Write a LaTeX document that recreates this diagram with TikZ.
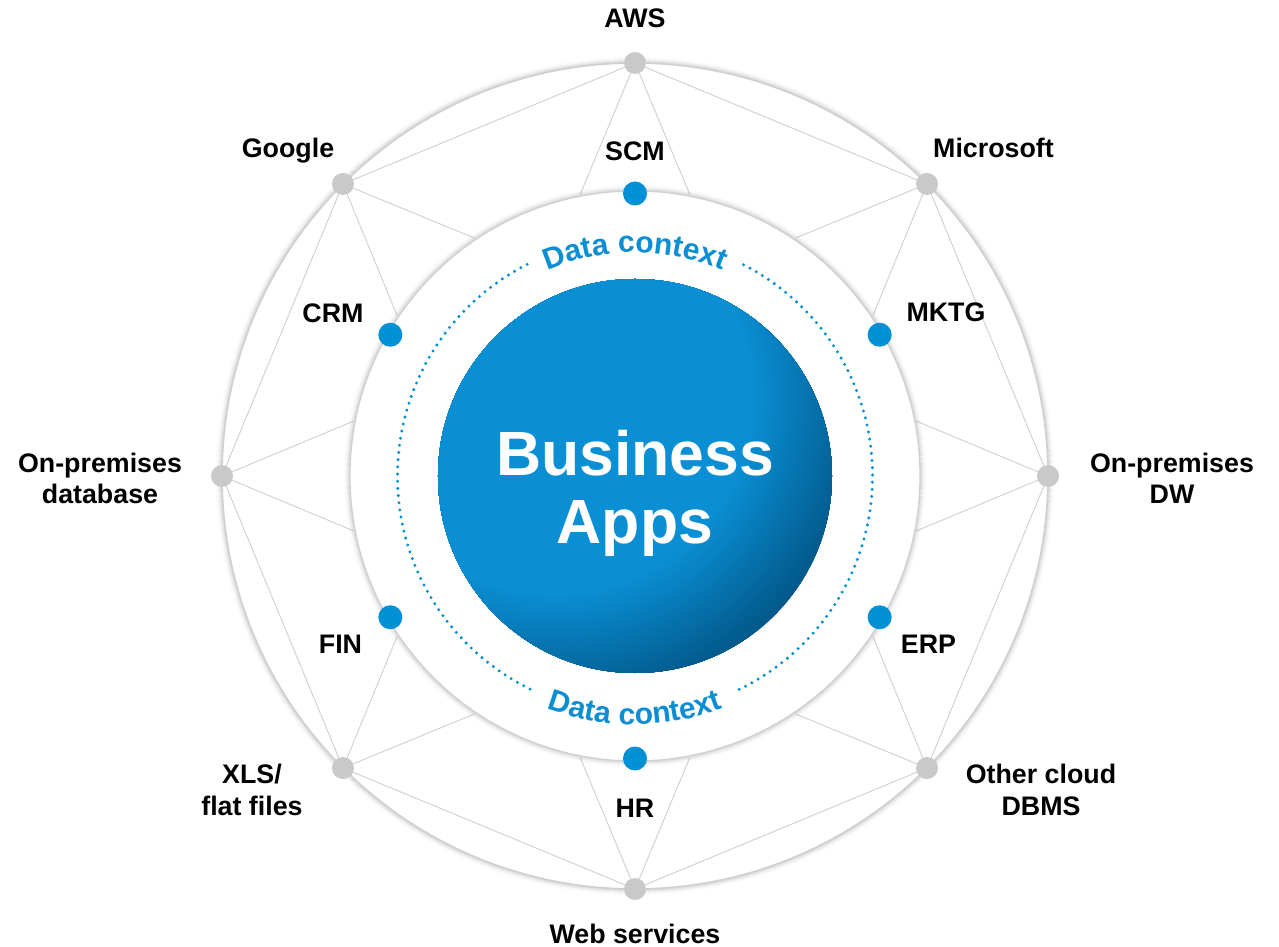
\documentclass[tikz,border=0pt]{standalone}
\usepackage{fontspec}
\setmainfont{Liberation Sans}
\usetikzlibrary{decorations.text}
\definecolor{dotblue}{HTML}{0090D5}
\definecolor{txtblue}{HTML}{0C8ED3}
\definecolor{bizA}{HTML}{0A8FD4}
\definecolor{bizB}{HTML}{004F7D}
\definecolor{linegray}{HTML}{CFCFCF}
\definecolor{edgegray}{HTML}{D0D0D0}
\definecolor{dotgray}{HTML}{C9C9C9}
\tikzset{
  graydot/.style={circle, fill=dotgray, minimum size=22pt, inner sep=0pt},
  bluedot/.style={circle, fill=dotblue, minimum size=24pt, inner sep=0pt},
  spoke/.style={draw=linegray, line width=0.9pt},
  lbl/.style={font=\fontsize{26.8}{31.7}\selectfont\bfseries, text=black, inner sep=0pt, anchor=base, align=center},
  dotline/.style={draw=dotblue, line width=3.3pt, line cap=round, dash pattern=on 0pt off 7.2pt},
  ctxtext/.style={decorate, decoration={text along path, text align=center,
     text={|\fontsize{30}{32}\selectfont\bfseries\color{txtblue}|Data context}}}
}
\begin{document}
\begin{tikzpicture}[x=1pt, y=1pt]
\useasboundingbox (-635,-471) rectangle (644,476);
% outer disk with soft shadow
\foreach \k/\op in {1/0.13,2/0.10,3/0.07,4/0.045,5/0.025,6/0.012,7/0.005}
  \draw[black, opacity=\op, line width=1.1pt] (0,0) circle[radius=413+\k-0.5];
\fill[white] (0,0) circle[radius=413];
\draw[edgegray, line width=1.6pt] (0,0) circle[radius=413];
% outer dots
\node[graydot] (aws) at (90:413) {};
\node[graydot] (ms) at (45:413) {};
\node[graydot] (dw) at (0:413) {};
\node[graydot] (oc) at (-45:413) {};
\node[graydot] (ws) at (-90:413) {};
\node[graydot] (xls) at (-135:413) {};
\node[graydot] (db) at (180:413) {};
\node[graydot] (gg) at (135:413) {};
% chords
\draw[spoke] (aws) -- (ms) -- (dw) -- (oc) -- (ws) -- (xls) -- (db) -- (gg) -- (aws);
% spokes to inner circle
\foreach \n/\a in {aws/90, ms/45, dw/0, oc/-45, ws/-90, xls/-135, db/180, gg/135}{
  \coordinate (\n-l) at (\a+11:287);
  \coordinate (\n-r) at (\a-11:287);
  \draw[spoke] (\n) -- (\n-l);
  \draw[spoke] (\n) -- (\n-r);
}
% inner disk with shadow
\foreach \k/\op in {1/0.13,2/0.10,3/0.07,4/0.045,5/0.025,6/0.012,7/0.005}
  \draw[black, opacity=\op, line width=1.1pt] (0,0) circle[radius=285+\k-0.5];
\fill[white] (0,0) circle[radius=285];
\draw[edgegray, line width=1.2pt] (0,0) circle[radius=285];
% blue dots
\node[bluedot] (scm) at (90:282.5) {};
\node[bluedot] (mktg) at (30:282.5) {};
\node[bluedot] (erp) at (-30:282.5) {};
\node[bluedot] (hr) at (-90:282.5) {};
\node[bluedot] (fin) at (210:282.5) {};
\node[bluedot] (crm) at (150:282.5) {};
% dotted data-context ring
\draw[dotline] (117:237.5) arc[start angle=117, end angle=244, radius=237.5];
\draw[dotline] (296:237.5) arc[start angle=296, end angle=423, radius=237.5];
\path[ctxtext] (130:223.5) arc[start angle=130, end angle=50, radius=223.5];
\path[ctxtext] (230:248.5) arc[start angle=230, end angle=310, radius=248.5];
% central disk (stepped radial gradient, light centre at upper left)
\begin{scope}
  \clip (0,0) circle[radius=197];
  \foreach \i in {0,...,44}{
    \pgfmathsetmacro\rr{330-\i*3}
    \pgfmathsetmacro\pc{100-\i*100/44}
    \fill[bizB!\pc!bizA] (-80,80) circle[radius=\rr];
  }
\end{scope}
\node[font=\fontsize{62.5}{68}\selectfont\bfseries, text=white, align=center, inner sep=0pt] (apps) at (0,-17.5) {Business\\Apps};
% labels
\node[lbl] (l-aws) at (0,448) {AWS};
\node[lbl] (l-gg) at (-347,318.5) {Google};
\node[lbl] (l-ms) at (358.5,318.5) {Microsoft};
\node[lbl] (l-scm) at (0,315) {SCM};
\node[lbl] (l-mktg) at (311,154.5) {MKTG};
\node[lbl] (l-crm) at (-302,153) {CRM};
\node[lbl] (l-fin) at (-294.5,-177) {FIN};
\node[lbl] (l-erp) at (293.5,-177) {ERP};
\node[lbl] (l-hr) at (0,-341) {HR};
\node[lbl] (l-ws) at (0,-467.5) {Web services};
\node[lbl] (l-dw) at (537,-28) {On-premises\\DW};
\node[lbl] (l-db) at (-535,-28) {On-premises\\database};
\node[lbl] (l-oc) at (406,-339) {Other cloud\\DBMS};
\node[lbl] (l-xls) at (-383,-339) {XLS/\\flat files};
\end{tikzpicture}
\end{document}
